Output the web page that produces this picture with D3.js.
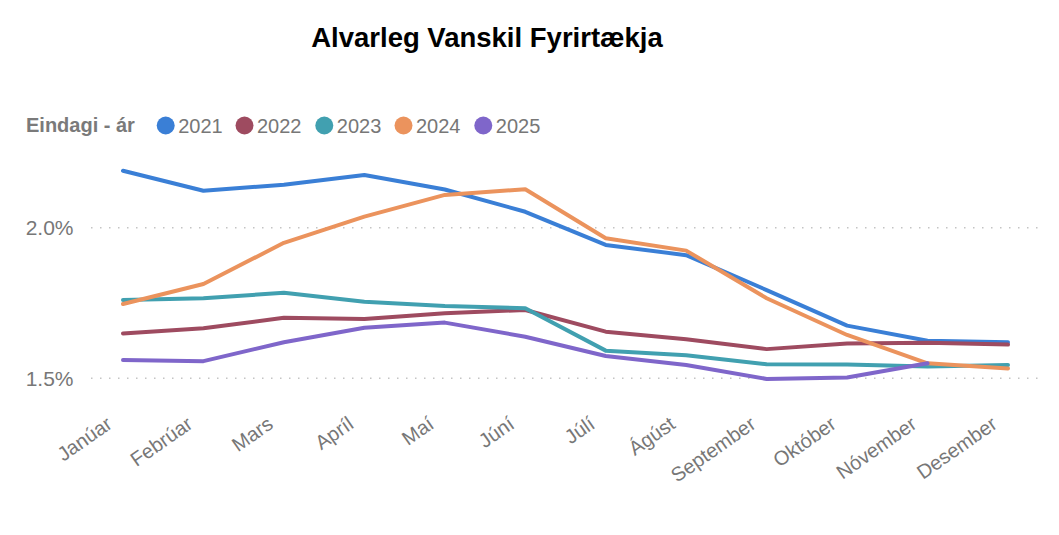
<!DOCTYPE html>
<html>
<head>
<meta charset="utf-8">
<script src="https://cdn.jsdelivr.net/npm/d3@7"></script>
<style>
  body { margin: 0; background: #fff; }
  text { font-family: "Liberation Sans", Arial, sans-serif; }
</style>
</head>
<body>
<svg id="chart"></svg>
<script>
// months on the x axis
const months = ["Janúar", "Febrúar", "Mars", "Apríl", "Maí", "Júní", "Júlí", "Ágúst", "September", "Október", "Nóvember", "Desember"];

// series (percent)
const years = ["2021", "2022", "2023", "2024", "2025"];
const v2021 = [2.189, 2.123, 2.143, 2.175, 2.127, 2.053, 1.943, 1.909, 1.793, 1.675, 1.625, 1.620];
const v2022 = [1.649, 1.666, 1.701, 1.697, 1.716, 1.727, 1.655, 1.630, 1.597, 1.616, 1.618, 1.612];
const v2023 = [1.760, 1.766, 1.784, 1.754, 1.740, 1.733, 1.592, 1.577, 1.547, 1.546, 1.539, 1.544];
const v2024 = [1.747, 1.813, 1.950, 2.037, 2.109, 2.128, 1.965, 1.924, 1.766, 1.644, 1.550, 1.533];
const v2025 = [1.561, 1.557, 1.620, 1.668, 1.685, 1.638, 1.574, 1.544, 1.498, 1.503, 1.550];
const yTicks = [1.5, 2.0];

const colors = ["#3a7fd6", "#9e4b60", "#41a0b0", "#eb935d", "#7f66ca"];
const seriesVals = [v2021, v2022, v2023, v2024, v2025];

const width = 1059, height = 535;
const svg = d3.select("#chart").attr("width", width).attr("height", height);

// scales
const xScale = d3.scalePoint().domain(months).range([123, 1008]);
const yScale = d3.scaleLinear().domain([1.45, 2.2]).range([393.4, 167.5]);

// title
svg.append("text")
    .attr("x", 487).attr("y", 47)
    .attr("text-anchor", "middle")
    .attr("font-size", 27.5).attr("font-weight", "bold")
    .attr("fill", "#000")
    .text("Alvarleg Vanskil Fyrirtækja");

// legend
const legend = svg.append("g").attr("transform", "translate(26,125.5)");
legend.append("text")
    .attr("x", 0).attr("y", 6.5)
    .attr("font-size", 20).attr("font-weight", "bold")
    .attr("fill", "#7a7a7a")
    .text("Eindagi - ár");
const legendX = [165.7, 244.5, 324.3, 403.5, 483.3];
years.forEach((yr, i) => {
    const g = legend.append("g").attr("transform", `translate(${legendX[i] - 26},0)`);
    g.append("circle").attr("r", 9).attr("fill", colors[i]);
    g.append("text")
        .attr("x", 12.5).attr("y", 7)
        .attr("font-size", 20)
        .attr("fill", "#777")
        .text(yr);
});

// y axis + dotted grid
const yAxis = d3.axisLeft(yScale)
    .tickValues(yTicks)
    .tickSize(0)
    .tickFormat(d => d.toFixed(1) + "%");
const yG = svg.append("g")
    .attr("transform", "translate(73.5,0)")
    .call(yAxis);
yG.select(".domain").remove();
yG.selectAll("text")
    .attr("font-size", 21)
    .attr("fill", "#777")
    .attr("x", 0);

svg.append("g").selectAll("line")
    .data(yTicks)
    .enter().append("line")
    .attr("x1", 91).attr("x2", 1042)
    .attr("y1", d => yScale(d)).attr("y2", d => yScale(d))
    .attr("stroke", "#c4c4c4")
    .attr("stroke-width", 1.5)
    .attr("stroke-dasharray", "1.5,7.5");

// x axis
const xAxis = d3.axisBottom(xScale).tickSize(0);
const xG = svg.append("g")
    .attr("transform", "translate(0,400)")
    .call(xAxis);
xG.select(".domain").remove();
xG.selectAll("text")
    .attr("font-size", 20)
    .attr("fill", "#777")
    .attr("text-anchor", "end")
    .attr("x", 0).attr("y", 0).attr("dy", 0)
    .attr("transform", "translate(-10,27) rotate(-35)");

// lines
const myLine = d3.line()
    .x((d, i) => xScale(months[i]))
    .y(d => yScale(d));

seriesVals.forEach((vals, i) => {
    svg.append("path")
        .datum(vals)
        .attr("class", "line-" + years[i])
        .attr("d", myLine)
        .attr("fill", "none")
        .attr("stroke", colors[i])
        .attr("stroke-width", 4)
        .attr("stroke-linecap", "round")
        .attr("stroke-linejoin", "round");
});
</script>
</body>
</html>
